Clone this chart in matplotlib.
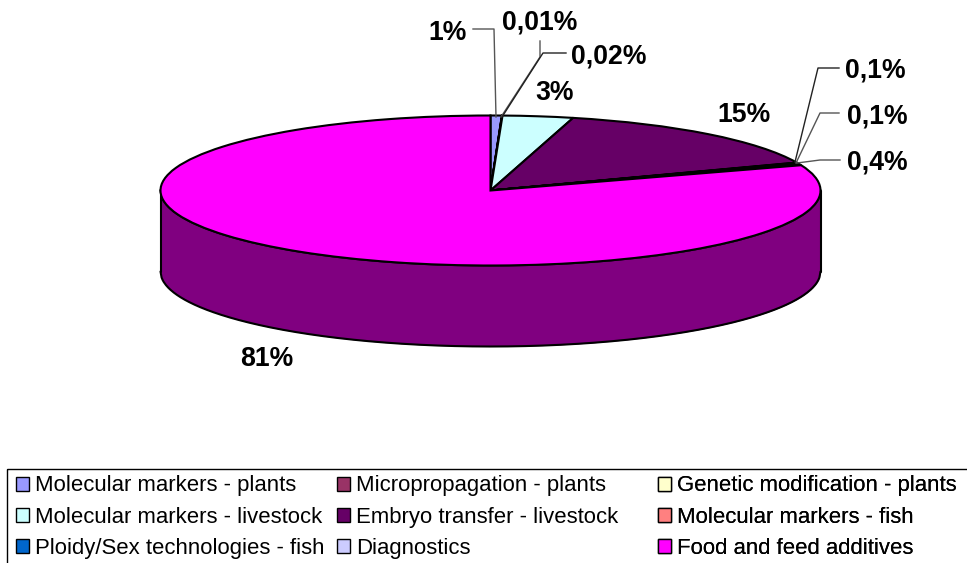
import numpy as np
import matplotlib
matplotlib.use("Agg")
import matplotlib.pyplot as plt
from matplotlib.patches import Patch, Rectangle

plt.rcParams['font.family'] = ['Liberation Sans', 'DejaVu Sans']

categories = ["Molecular markers - plants", "Micropropagation - plants",
              "Genetic modification - plants", "Molecular markers - livestock",
              "Embryo transfer - livestock", "Molecular markers - fish",
              "Ploidy/Sex technologies - fish", "Diagnostics", "Food and feed additives"]
values = [0.55, 0.01, 0.02, 3.45, 14.9, 0.1, 0.1, 0.4, 80.47]
value_labels = ["1%", "0,01%", "0,02%", "3%", "15%", "0,1%", "0,1%", "0,4%", "81%"]
colors = ["#9999FF", "#993366", "#FFFFCC", "#CCFFFF", "#660066",
          "#FF8080", "#0066CC", "#CCCCFF", "#FF00FF"]
side_color = "#800080"

W, H = 967, 563
CX, CY, RX, RY, DEPTH = 490.5, 190.5, 330, 75, 81

fig = plt.figure(figsize=(W / 100, H / 100), dpi=100)
ax = fig.add_axes([0, 0, 1, 1])

# side wall of the disc
d = DEPTH / RY
x = np.linspace(-1, 1, 600)
lower = -np.sqrt(1 - x ** 2)
ax.fill_between(x, lower - d, lower, color=side_color, lw=0, zorder=1)
ax.plot(x, lower - d, color='black', lw=1.5, zorder=2, solid_capstyle='round')
ax.plot(x, lower, color='black', lw=1.5, zorder=2)
ax.plot([-1, -1], [0, -d], color='black', lw=1.5, zorder=2, solid_capstyle='round')
ax.plot([1, 1], [0, -d], color='black', lw=1.5, zorder=2, solid_capstyle='round')

wedges, _ = ax.pie(values, colors=colors, startangle=90, counterclock=False,
                   radius=1, center=(0, 0), frame=False,
                   wedgeprops=dict(edgecolor='black', linewidth=1.5, zorder=3))
ax.set_xlim(-CX / RX, (W - CX) / RX)
ax.set_ylim((CY - H) / RY, CY / RY)
ax.set_aspect('auto')
ax.axis('off')

# overlay in image pixels
ov = fig.add_axes([0, 0, 1, 1], facecolor='none')
ov.set_xlim(0, W)
ov.set_ylim(H, 0)
ov.axis('off')

label_pos = [(448, 32.5), (540, 22), (609, 56.5), (555, 92.5), (744, 114.5),
             (875, 70.5), (877, 116.5), (877, 162.5), (267, 358.5)]
for s, (px, py) in zip(value_labels, label_pos):
    ov.text(px, py, s, fontsize=19.2, fontweight='bold', ha='center', va='center', color='black')

leaders = [[(473, 29), (494, 29), (496, 117)],
           [(540, 41), (540, 57), (501, 117)],
           [(566, 53), (543, 53), (502, 117)],
           [(839, 68), (818, 68), (795, 162)],
           [(839, 113), (820, 113), (796, 163)],
           [(840, 160), (820, 160), (797, 163)]]
for path, col in zip(leaders, ['#555555', '#555555', '#222222', '#222222', '#555555', '#555555']):
    xs, ys = zip(*path)
    ov.plot(xs, ys, color=col, lw=1.0, zorder=4)

# legend frame (runs off the right and bottom of the image) and three placed columns
ov.add_patch(Rectangle((7, 469), 980, 120, fill=False, edgecolor='black', lw=1.0, clip_on=True))
handles = [Patch(facecolor=c, edgecolor='black', linewidth=1.0) for c in colors]
col_x = [16, 337, 658]
for j, lx in enumerate(col_x):
    idx = [j, j + 3, j + 6]
    leg = ov.legend([handles[i] for i in idx], [categories[i] for i in idx],
                    loc='upper left', bbox_to_anchor=(lx, 475.5), bbox_transform=ov.transData,
                    frameon=False, fontsize=15.9, ncols=1, borderpad=0, borderaxespad=0,
                    handlelength=0.58, handleheight=0.58, handletextpad=0.27,
                    labelspacing=0.46, labelcolor='black')
    ov.add_artist(leg)

fig.savefig("out.png", dpi=100, facecolor='white')
